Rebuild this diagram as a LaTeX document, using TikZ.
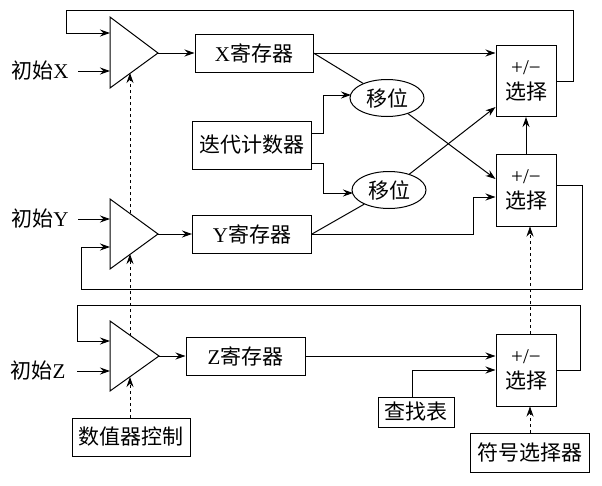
\documentclass[tikz,border=0pt]{standalone}
\usepackage{fontspec}
\setmainfont{Liberation Serif}
\newfontfamily\cjk{Noto Sans CJK SC}
\usetikzlibrary{arrows.meta,calc,shapes.geometric}
\begin{document}
\begin{tikzpicture}[x=1pt,y=-1pt,line width=1pt,
  every node/.style={font=\fontsize{21}{25}\selectfont},
  box/.style={draw,inner sep=0pt},
  sel/.style={draw,inner sep=0pt,align=center,minimum width=60pt},
  ell/.style={draw,ellipse,inner sep=0pt,minimum width=74pt,minimum height=37pt},
  arr/.style={-{Stealth[length=10pt,width=7pt]}},
  dsh/.style={dashed,line width=0.7pt,-{Stealth[length=10pt,width=7pt]}}]
\useasboundingbox (0,0) rectangle (602,485);
% triangles
\draw (110,17) -- (158,53) -- (110,88) -- cycle;
\draw (110,199) -- (158,234) -- (110,269) -- cycle;
\draw (110,321) -- (159,356) -- (110,391) -- cycle;
\coordinate (ta) at (158,53);
\coordinate (tb) at (158,234);
\coordinate (tc) at (159,356);
% nodes
\node[box,minimum width=118pt,minimum height=38pt] (xr) at (254,53) {X\cjk 寄存器};
\node[box,minimum width=119pt,minimum height=48pt] (cnt) at (252,145) {\cjk 迭代计数器};
\node[box,minimum width=119pt,minimum height=38pt] (yr) at (252,234) {Y\cjk 寄存器};
\node[box,minimum width=119pt,minimum height=38pt] (zr) at (245.5,356) {Z\cjk 寄存器};
\node[ell] (e1) at (387,98) {\cjk 移位};
\node[ell] (e2) at (389,190) {\cjk 移位};
\node[sel,minimum height=71pt] (s1) at (526,81) {+/−\\\cjk 选择};
\node[sel,minimum height=72pt] (s2) at (526,190) {+/−\\\cjk 选择};
\node[sel,minimum height=72pt] (s3) at (526,370) {+/−\\\cjk 选择};
\node[box,minimum width=76pt,minimum height=30pt] (lk) at (416,412) {\cjk 查找表};
\node[box,minimum width=118pt,minimum height=38pt] (ctl) at (131,437) {\cjk 数值器控制};
\node[box,minimum width=119pt,minimum height=39pt] (sym) at (530,453) {\cjk 符号选择器};
\node[anchor=east,inner sep=0pt] (ix) at (69,71) {\cjk 初始\rmfamily X};
\node[anchor=east,inner sep=0pt] (iy) at (69,219) {\cjk 初始\rmfamily Y};
\node[anchor=east,inner sep=0pt] (iz) at (66,371) {\cjk 初始\rmfamily Z};
% inputs
\draw[arr] ($(ix.east)+(9,0)$) -- (110,71);
\draw[arr] ($(iy.east)+(9,0)$) -- (110,219);
\draw[arr] ($(iz.east)+(11,0)$) -- (110,371);
\draw[arr] (ta) -- (xr.west);
\draw[arr] (tb) -- (yr.west);
\draw[arr] (tc) -- (zr.west);
% X path
\draw[arr] (xr.east) -- (xr.east -| s1.west);
\draw (xr.east) -- (e1);
\draw[arr] (e1) -- ($(s2.west)+(0,-11)$);
\draw[arr] (e2) -- ($(s1.west)+(0,26)$);
\draw (yr.east) -- (e2);
\draw[arr] (yr.east) -| (473,197) -- (s2.west |- 0,197);
\draw[arr] ($(cnt.east)+(0,-12)$) -| (323,95) -- (351,95);
\draw[arr] ($(cnt.east)+(0,18)$) -| (323,193) -- (353,193);
\draw[arr] (s2.north) -- (s1.south);
% loops
\draw[arr] (s1.east) -| (573,10) -| (66,33) -- (110,33);
\draw[arr] ($(s2.east)+(0,-5)$) -| (582,289) -| (81,247) -- (110,247);
\draw[arr] (s3.east) -| (580,305) -| (77,341) -- (110,341);
% Z path
\draw[arr] (zr.east) -- (zr.east -| s3.west);
\draw[arr] ($(lk.north)+(-4,0)$) |- (s3.west);
% dashed controls
\draw[dsh] (ctl.north -| 130,0) -- (130,377);
\draw[dsh] (130,336) -- (130,254);
\draw[dsh] (130,213) -- (130,73);
\draw[dsh] (sym.north) -- (s3.south -| sym.north);
\draw[dsh] (s3.north -| sym.north) -- (s2.south -| sym.north);
\end{tikzpicture}
\end{document}
